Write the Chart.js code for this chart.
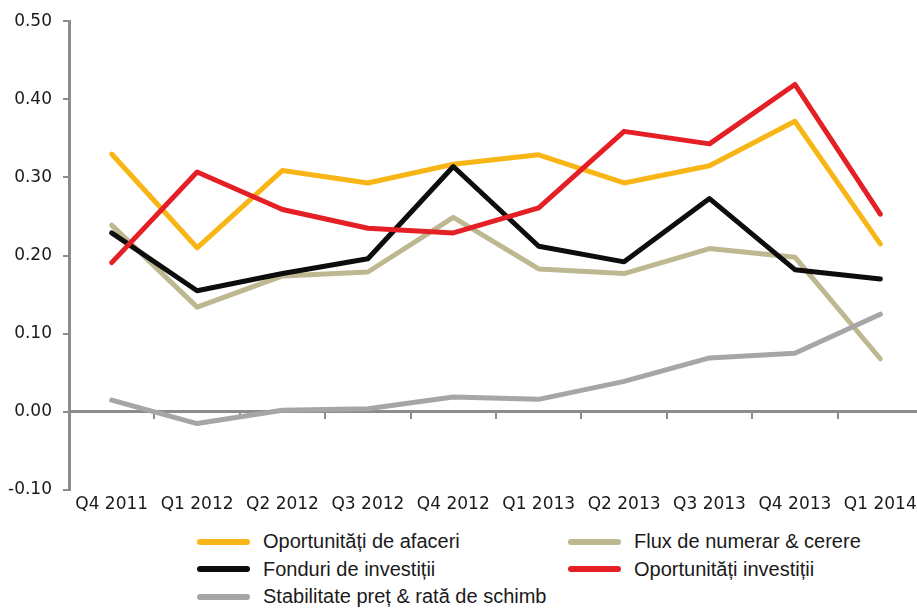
<!DOCTYPE html>
<html>
<head>
<meta charset="utf-8">
<script src="https://cdn.jsdelivr.net/npm/chart.js@4"></script>
<style>
  html, body { margin: 0; padding: 0; background: #fff; overflow: hidden; }
  #wrap { position: relative; width: 923px; height: 608px; }
  #chart { display: block; }
  #legend {
    position: absolute; left: 197px; top: 528px;
    display: grid; grid-template-columns: 371px 371px;
    font-family: "Liberation Sans", Arial, sans-serif; font-size: 20px; color: #1a1a1a;
  }
  #legend .item { display: flex; align-items: center; height: 27.5px; white-space: nowrap; }
  #legend .swatch { width: 53px; height: 6px; border-radius: 3px; margin-right: 13px; flex: none; }
</style>
</head>
<body>
<div id="wrap">
  <canvas id="chart" width="923" height="520"></canvas>
  <div id="legend"></div>
</div>
<script>
// quarters on the x axis
const quarters = ['Q4 2011', 'Q1 2012', 'Q2 2012', 'Q3 2012', 'Q4 2012',
                  'Q1 2013', 'Q2 2013', 'Q3 2013', 'Q4 2013', 'Q1 2014'];

// series
const oportunitatiAfaceri = [0.330, 0.210, 0.309, 0.293, 0.317, 0.329, 0.293, 0.315, 0.372, 0.215];
const fluxNumerar         = [0.239, 0.134, 0.174, 0.179, 0.249, 0.183, 0.177, 0.209, 0.198, 0.068];
const fonduriInvestitii   = [0.229, 0.155, 0.177, 0.196, 0.314, 0.212, 0.192, 0.273, 0.182, 0.170];
const oportunitatiInvest  = [0.191, 0.307, 0.259, 0.235, 0.229, 0.261, 0.359, 0.343, 0.419, 0.253];
const stabilitatePret     = [0.015, -0.015, 0.002, 0.004, 0.019, 0.016, 0.039, 0.069, 0.075, 0.125];

const yTicks = { min: -0.10, max: 0.50, step: 0.10 };

const axisGrey = '#8c8c8c';
const tickFont = { family: 'DejaVu Sans', size: 17 };

function line(label, data, color, order) {
    return {
        label: label,
        data: data,
        borderColor: color,
        backgroundColor: color,
        borderWidth: 5,
        pointRadius: 0,
        tension: 0,
        borderCapStyle: 'round',
        borderJoinStyle: 'round',
        order: order
    };
}

const chart = new Chart(document.getElementById('chart'), {
    type: 'line',
    data: {
        labels: quarters,
        datasets: [
            line('Oportunități de afaceri', oportunitatiAfaceri, '#F8B516', 5),
            line('Flux de numerar & cerere', fluxNumerar, '#BDB890', 4),
            line('Fonduri de investiții', fonduriInvestitii, '#0d0d0d', 3),
            line('Oportunități investiții', oportunitatiInvest, '#E41F26', 2),
            line('Stabilitate preț & rată de schimb', stabilitatePret, '#A6A6A8', 1)
        ]
    },
    options: {
        responsive: false,
        animation: false,
        layout: { padding: { top: 15, right: 0, left: 0, bottom: 0 } },
        plugins: { legend: { display: false }, tooltip: { enabled: false } },
        scales: {
            x: {
                offset: true,
                grid: { display: false, drawTicks: false },
                border: { display: false },
                ticks: { font: tickFont, color: '#1a1a1a', padding: 4, maxRotation: 0, autoSkip: false },
                afterFit: (s) => { s.height = 30; }
            },
            // zero line with tick marks between categories
            x2: {
                type: 'category',
                position: { y: 0 },
                offset: true,
                grid: { offset: true, drawOnChartArea: false, color: axisGrey, tickLength: 6, lineWidth: 2 },
                border: { display: true, color: axisGrey, width: 3 },
                ticks: { display: false }
            },
            y: {
                min: yTicks.min,
                max: yTicks.max,
                ticks: {
                    stepSize: yTicks.step,
                    font: tickFont,
                    color: '#1a1a1a',
                    padding: 11,
                    callback: (v) => (Math.round(v * 100) / 100 + 0).toFixed(2)
                },
                grid: { drawOnChartArea: false, color: axisGrey, tickLength: 6, lineWidth: 2 },
                border: { display: true, color: axisGrey, width: 3 },
                afterFit: (s) => { s.width = 69; }
            }
        }
    }
});

// legend in two columns, built from the chart's datasets
const legendEl = document.getElementById('legend');
chart.data.datasets.forEach((ds) => {
    const item = document.createElement('div');
    item.className = 'item';
    const sw = document.createElement('span');
    sw.className = 'swatch';
    sw.style.background = ds.borderColor;
    const txt = document.createElement('span');
    txt.textContent = ds.label;
    item.appendChild(sw);
    item.appendChild(txt);
    legendEl.appendChild(item);
});
</script>
</body>
</html>
